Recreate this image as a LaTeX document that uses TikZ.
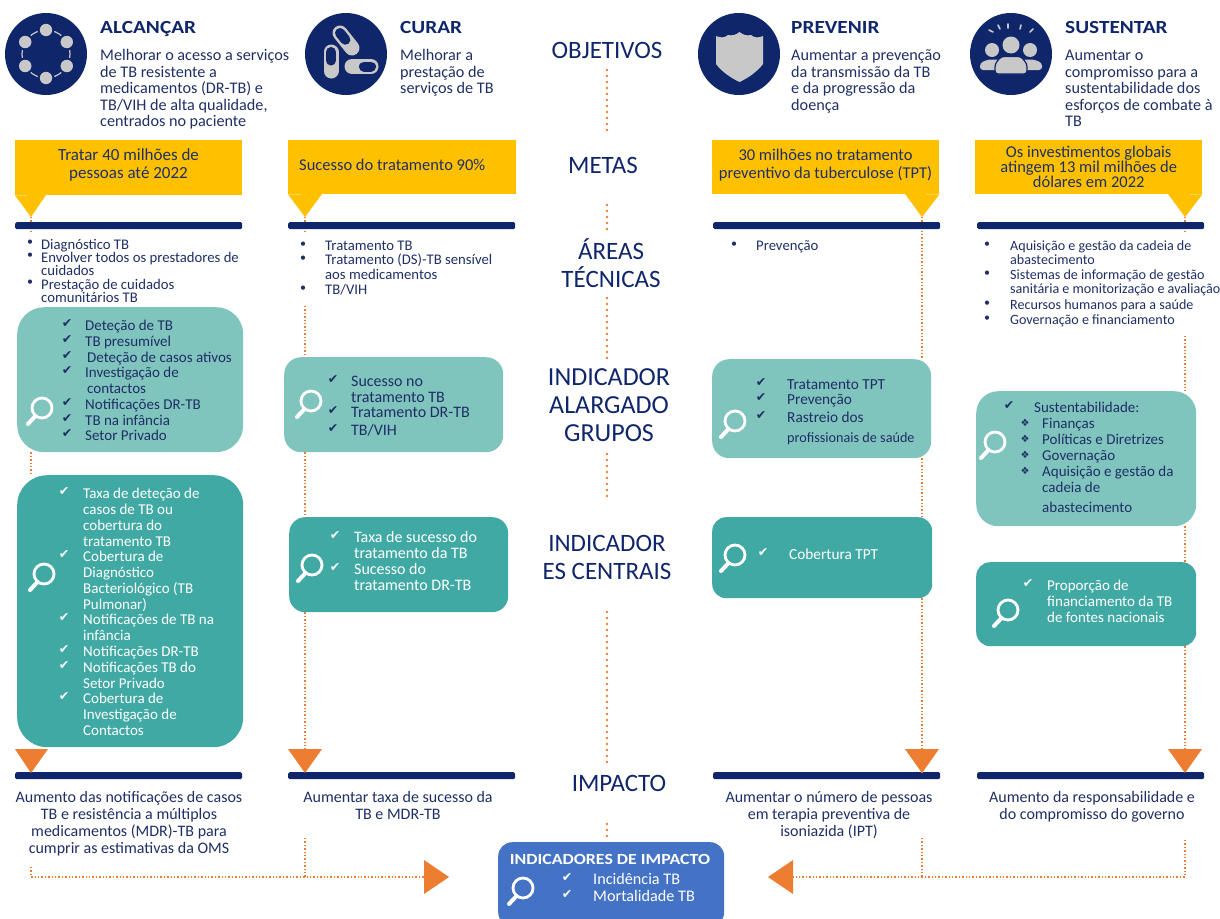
\documentclass[tikz,border=0pt]{standalone}
\usepackage{fontspec}
\setmainfont{Carlito}
\newfontfamily\djv{DejaVu Sans}
\newfontfamily\headf[FakeStretch=1.15]{Carlito}
\usetikzlibrary{calc}
\definecolor{navy}{HTML}{10266B}
\definecolor{ink}{HTML}{1F2F66}
\definecolor{gold}{HTML}{FFC000}
\definecolor{orng}{HTML}{ED7D31}
\definecolor{ltteal}{HTML}{80C4BE}
\definecolor{dkteal}{HTML}{41A9A3}
\definecolor{blu}{HTML}{4472C4}
\definecolor{iconGray}{HTML}{C8C8C8}
\newcounter{itc}
\newcommand\lsz{15}
\newcommand\bsz{14.7}
\newcommand\bbs{13.3}
\tikzset{
 x=1pt,y=-1pt,
 para/.style={inner sep=0pt,text=ink,font=\fontsize{16.2}{16.5}\selectfont},
 pleft/.style={para,anchor=north west,align=left},
 pcent/.style={para,anchor=north,align=center,font=\fontsize{16}{17}\selectfont},
 headtxt/.style={inner sep=0pt,anchor=base west,text=navy,font=\fontsize{18.5}{20}\selectfont\headf\bfseries},
 central/.style={inner sep=0pt,text=navy,font=\fontsize{25}{28}\selectfont,align=center},
 goldbox/.style={fill=gold,inner sep=0pt,anchor=north west,text=ink,align=center,font=\fontsize{16.5}{18}\selectfont},
 navbar/.style={fill=navy,rounded corners=1.5pt,inner sep=0pt,anchor=north west,minimum height=7pt},
 lightbox/.style={fill=ltteal,inner sep=0pt,anchor=north west,draw=none},
 darkbox/.style={fill=dkteal,inner sep=0pt,anchor=north west,draw=none},
 listtxt/.style={inner sep=0pt,anchor=north west,align=left,font=\fontsize{\lsz}{16}\selectfont},
 smalltxt/.style={inner sep=0pt,anchor=north west,align=left,text=ink,font=\fontsize{\bsz}{\bbs}\selectfont},
 ckmark/.style={inner sep=0pt,font=\fontsize{12.5}{12}\selectfont\djv},
 dotline/.style={orng,line width=1.4pt,dash pattern=on 1.4pt off 2pt},
 middot/.style={orng,line width=2.6pt,line cap=round,dash pattern=on 0pt off 6pt},
 otip/.style={fill=orng,draw=none},
 glass/.pic={\draw[white,line width=2.8pt] (3,-4) circle[radius=10];
   \draw[white,line width=4pt,line cap=round] (-3.5,4) -- (-11,12);},
 gi/.style={fill=iconGray,draw=none},
}
\newcommand\chk[5][ink]{\stepcounter{itc}%
 \node[ckmark,text=#1] (m\arabic{itc}) at (#2,#4-1) {✔};
 \node[listtxt,text=#1] (t\arabic{itc}) at (#3,#4-6) {\strut #5};}
\newcommand\bul[4]{\stepcounter{itc}%
 \node[inner sep=0pt,text=ink,font=\fontsize{12}{14}\selectfont] (m\arabic{itc}) at (#1,#3) {•};
 \node[smalltxt] (t\arabic{itc}) at (#2,#3+5-0.7*\bbs) {\strut #4};}
\newcommand\dia[2]{\stepcounter{itc}%
 \node[ckmark,text=ink,font=\fontsize{10}{12}\selectfont\djv] (m\arabic{itc}) at (1025,#1) {❖};
 \node[listtxt,text=ink] (t\arabic{itc}) at (1042,#1-6) {\strut #2};}
\newcommand\pillshape[4]{% from a to b, halfway navy
 \draw[iconGray,line width=15pt,line cap=round] (#1,#2) -- (#3,#4);
 \draw[navy,line width=10pt,line cap=round] (#1,#2) -- ($(#1,#2)!.45!(#3,#4)$);
}
\begin{document}
\begin{tikzpicture}
\useasboundingbox (0,0) rectangle (1220,918);
\lineskiplimit=-20pt\relax
% column x positions
\coordinate (c1) at (31,0); \coordinate (c2) at (305,0);
\coordinate (c3) at (922,0); \coordinate (c4) at (1185,0);
\coordinate (cm) at (607,0);
% icons
\node[fill=navy,circle,minimum size=82pt,inner sep=0pt] (ic1) at (46,54) {};
\node[fill=navy,circle,minimum size=82pt,inner sep=0pt] (ic2) at (346,54) {};
\node[fill=navy,circle,minimum size=82pt,inner sep=0pt] (ic3) at (739,54) {};
\node[fill=navy,circle,minimum size=82pt,inner sep=0pt] (ic4) at (1011,54) {};
% network icon
\draw[iconGray,line width=1.2pt] (46,54) circle[radius=24];
\foreach \a in {90,150,210,270,330,30}{\fill[navy] ($(46,54)+(\a:24)$) circle[radius=8.5];\fill[iconGray] ($(46,54)+(\a:24)$) circle[radius=6.2];}
% pills
\pillshape{340}{33}{352}{48}
\pillshape{331}{52}{331}{71}
\draw[iconGray,line width=15pt,line cap=round] (352,66.5) -- (371,66.5);
\draw[navy,line width=10pt,line cap=round] (364,66.5) -- (371,66.5);
% shield
\fill[iconGray] (716,36) .. controls (720,38) and (725,38) .. (728,35) .. controls (732,36) and (736,35) .. (739.5,32)
 .. controls (743,35) and (747,36) .. (751,35) .. controls (754,38) and (759,38) .. (763,36)
 -- (763,64) .. controls (757,72) and (748,78) .. (739.5,82) .. controls (731,78) and (722,72) .. (716,64) -- cycle;
% people
\fill[gi] (992,50) circle[radius=7]; \fill[gi] (1030,50) circle[radius=7];
\fill[gi,rounded corners=3pt] (980,70) -- (980,63) -- (988,59.5) -- (998,59.5) -- (1004,62) -- (1018,62) -- (1024,59.5) -- (1034,59.5) -- (1042,63) -- (1042,70) -- cycle;
\fill[navy] (1011,46) circle[radius=10];
\fill[gi] (1011,45) circle[radius=8.5];
\draw[navy,line width=1.2pt,fill=iconGray,rounded corners=3pt] (995,74) -- (995,64) -- (1001,56.5) -- (1021,56.5) -- (1027,64) -- (1027,74) -- cycle;
\draw[iconGray,line width=1.6pt,line cap=round] (993,32)--(989,30) (1000,29)--(998,25) (1008,28)--(1008,24) (1020,29)--(1021,25) (1030,32)--(1033,29);
% headings
\node[headtxt] (h1) at (100,33) {ALCANÇAR};
\node[headtxt] (h2) at (400,33) {CURAR};
\node[headtxt] (h3) at (791,33) {PREVENIR};
\node[headtxt] (h4) at (1065,33) {SUSTENTAR};
\node[pleft] (d1) at (100,49) {\strut Melhorar o acesso a serviços\\de TB resistente a\\medicamentos (DR-TB) e\\TB/VIH de alta qualidade,\\centrados no paciente};
\node[pleft] (d2) at (400,49) {\strut Melhorar a\\prestação de\\serviços de TB};
\node[pleft] (d3) at (791,49) {\strut Aumentar a prevenção\\da transmissão da TB\\e da progressão da\\doença};
\node[pleft] (d4) at (1065,49) {\strut Aumentar o\\compromisso para a\\sustentabilidade dos\\esforços de combate à\\TB};
% central labels
\node[central] (lobj) at (607,50) {OBJETIVOS};
\node[central] (lmet) at (603,165) {METAS};
\node[central] (lare) at (611,263) {ÁREAS\\TÉCNICAS};
\node[central,font=\fontsize{26}{28}\selectfont] (lalg) at (609,405) {INDICADOR\\ALARGADO\\GRUPOS};
\node[central] (lcen) at (607,557) {INDICADOR\\ES CENTRAIS};
\node[central] (limp) at (619,783) {IMPACTO};
% boxes
\node[lightbox,minimum width=226pt,minimum height=145pt,rounded corners=27pt] (lb1) at (17,307) {};
\node[lightbox,minimum width=219pt,minimum height=95pt,rounded corners=17pt] (lb2) at (284,357) {};
\node[lightbox,minimum width=219pt,minimum height=99pt,rounded corners=17pt] (lb3) at (712,359) {};
\node[lightbox,minimum width=220pt,minimum height=135pt,rounded corners=22pt] (lb4) at (976,391) {};
\node[darkbox,minimum width=226pt,minimum height=272pt,rounded corners=30pt] (db1) at (17,475) {};
\node[darkbox,minimum width=219pt,minimum height=95pt,rounded corners=16pt] (db2) at (289,517) {};
\node[darkbox,minimum width=220pt,minimum height=81pt,rounded corners=14pt] (db3) at (712,517) {};
\node[darkbox,minimum width=220pt,minimum height=84pt,rounded corners=14pt] (db4) at (976,562) {};
% vertical dotted connectors
\draw[middot] (cm |- 0,70) -- (cm |- 0,135);
\draw[middot] (cm |- 0,205) -- (cm |- 0,230);
\draw[middot] (cm |- 0,298) -- (cm |- 0,358);
\draw[middot] (cm |- 0,454) -- (cm |- 0,500);
\draw[middot] (cm |- 0,612) -- (cm |- 0,766);
% gold boxes
\node[goldbox,minimum width=227pt,minimum height=55pt] (g1) at (15,140) {};
\node[inner sep=0pt,text=ink,align=center,font=\fontsize{17}{18}\selectfont] (g1t) at (128.5,165) {Tratar 40 milhões de\\pessoas até 2022};
\node[goldbox,minimum width=228pt,minimum height=54pt] (g2) at (288,140) {};
\node[inner sep=0pt,text=ink,anchor=west,font=\fontsize{16.5}{18}\selectfont] (g2t) at (299,165) {Sucesso do tratamento 90\%};
\node[goldbox,minimum width=227pt,minimum height=54pt] (g3) at (712,140) {};
\node[inner sep=0pt,text=ink,align=center,font=\fontsize{16.5}{18}\selectfont] (g3t) at (825.5,165) {30 milhões no tratamento\\preventivo da tuberculose (TPT)};
\node[goldbox,minimum width=227pt,minimum height=54pt,font=\fontsize{16.5}{15}\selectfont] (g4) at (975,140) {Os investimentos globais\\atingem 13 mil milhões de\\dólares em 2022};
\coordinate (p1) at (31,217); \coordinate (p2) at (305,217); \coordinate (p3) at (922,217); \coordinate (p4) at (1185,217);
\fill[gold] (g1.south west) -- (p1) -- (46,195) -- cycle;
\fill[gold] (g2.south west) -- (p2) -- (322,194) -- cycle;
\fill[gold] (905,194) -- (p3) -- (g3.south east) -- cycle;
\fill[gold] (1168,194) -- (p4) -- (g4.south east) -- cycle;
% column connectors
\coordinate (f2) at (305,306); \coordinate (f4) at (1185,336);
\draw[dotline] (p1) -- (c1 |- 0,232);
\draw[dotline] (p2) -- (c2 |- 0,232);
\draw[dotline] (p3) -- (c3 |- 0,359);
\draw[dotline] (p4) -- (c4 |- 0,232);
\draw[dotline] (f2) -- (c2 |- 0,357);
\draw[dotline] (f4) -- (c4 |- 0,391);
% navy bars top + bottom
\node[navbar,minimum width=227pt] (b1) at (15,222) {};
\node[navbar,minimum width=227pt] (b2) at (288,222) {};
\node[navbar,minimum width=227pt] (b3) at (713,222) {};
\node[navbar,minimum width=227pt] (b4) at (977,222) {};
\node[navbar,minimum width=227pt] (e1) at (15,772) {};
\node[navbar,minimum width=227pt] (e2) at (288,772) {};
\node[navbar,minimum width=227pt] (e3) at (713,772) {};
\node[navbar,minimum width=227pt] (e4) at (977,772) {};
\draw[dotline] (c1 |- lb1.south) -- (c1 |- db1.north);
\draw[dotline] (c2 |- lb2.south) -- (c2 |- db2.north);
\draw[dotline] (c3 |- lb3.south) -- (c3 |- db3.north);
\draw[dotline] (c4 |- lb4.south) -- (c4 |- db4.north);
\draw[dotline] (c2 |- db2.south) -- (c2 |- e2.north);
\draw[dotline] (c3 |- db3.south) -- (c3 |- e3.north);
\draw[dotline] (c4 |- db4.south) -- (c4 |- e4.north);
% orange tips
\coordinate (o1) at (31,773); \coordinate (o2) at (305,773); \coordinate (o3) at (922,773); \coordinate (o4) at (1185,773);
\fill[otip] (15,749) -- (48,749) -- (o1) -- cycle;
\fill[otip] (288,749) -- (322,749) -- (o2) -- cycle;
\fill[otip] (905,749) -- (939,749) -- (o3) -- cycle;
\fill[otip] (1168,749) -- (1202,749) -- (o4) -- cycle;
% lists: areas
\bul{30}{41}{243}{Diagnóstico TB}
\bul{30}{41}{256}{Envolver todos os prestadores de\\cuidados}
\bul{30}{41}{283}{Prestação de cuidados\\comunitários TB}
\renewcommand\bbs{14.5}
\bul{303}{325}{245}{Tratamento TB}
\bul{303}{325}{259}{Tratamento (DS)-TB sensível\\aos medicamentos}
\bul{303}{325}{289}{TB/VIH}
\bul{734}{756}{245}{Prevenção}
\renewcommand\bsz{14.1}
\bul{987}{1010}{245}{Aquisição e gestão da cadeia de\\abastecimento}
\bul{987}{1010}{274}{Sistemas de informação de gestão\\sanitária e monitorização e avaliação}
\bul{987}{1010}{304}{Recursos humanos para a saúde}
\bul{987}{1010}{319}{Governação e financiamento}
% lb1
\chk{67}{85}{325}{Deteção de TB}
\chk{67}{85}{341}{TB presumível}
\chk{67}{87}{357}{Deteção de casos ativos}
\chk{67}{85}{372}{Investigação de\\\hspace*{2pt}contactos}
\chk{67}{85}{404}{Notificações DR-TB}
\chk{67}{85}{420}{TB na infância}
\chk{67}{85}{435}{Setor Privado}
% db1
\chk[white]{64}{83}{493}{Taxa de deteção de\\casos de TB ou\\cobertura do\\tratamento TB}
\chk[white]{64}{83}{556}{Cobertura de\\Diagnóstico\\Bacteriológico (TB\\Pulmonar)}
\chk[white]{64}{83}{619}{Notificações de TB na\\infância}
\chk[white]{64}{83}{651}{Notificações DR-TB}
\chk[white]{64}{83}{667}{Notificações TB do\\Setor Privado}
\chk[white]{64}{83}{698}{Cobertura de\\Investigação de\\Contactos}
% lb2, db2
\renewcommand\lsz{16}
\chk{333}{351}{381}{Sucesso no\\tratamento TB}
\chk{333}{351}{412}{Tratamento DR-TB}
\chk{333}{351}{430}{TB/VIH}
\chk[white]{335}{354}{537}{Taxa de sucesso do\\tratamento da TB}
\chk[white]{335}{354}{569}{Sucesso do\\tratamento DR-TB}
% lb3, db3
\renewcommand\lsz{15.3}
\chk{761}{787}{384}{Tratamento TPT}
\chk{761}{787}{399}{Prevenção}
\chk{761}{787}{417}{Rastreio dos}
\chk[white]{763}{789}{554}{Cobertura TPT}
\renewcommand\lsz{14.2}
\node[listtxt,text=ink] (t3x) at (787,431) {\strut profissionais de saúde};
% lb4, db4
\renewcommand\lsz{15}
\chk{1009}{1034}{407}{Sustentabilidade:}
\dia{423}{Finanças}
\dia{439}{Políticas e Diretrizes}
\dia{455}{Governação}
\dia{471}{Aquisição e gestão da\\cadeia de}
\node[listtxt,text=ink] (t4x) at (1042,501) {\strut abastecimento};
\chk[white]{1028}{1047}{585}{Proporção de\\financiamento da TB\\de fontes nacionais}
% magnifiers
\pic (g1m) at (39,412) {glass};
\pic (g2m) at (308,405) {glass};
\pic (g3m) at (732,425) {glass};
\pic (g4m) at (992,446) {glass};
\pic (g5m) at (41,578) {glass};
\pic (g6m) at (309,569) {glass};
\pic (g7m) at (732,559) {glass};
\pic (g8m) at (1005,614) {glass};
% bottom text
\node[pcent] (r1) at (129,790.5) {\strut Aumento das notificações de casos\\TB e resistência a múltiplos\\medicamentos (MDR)-TB para\\cumprir as estimativas da OMS};
\node[pcent] (r2) at (398,790.5) {\strut Aumentar taxa de sucesso da\\TB e MDR-TB};
\node[pcent] (r3) at (829,790.5) {\strut Aumentar o número de pessoas\\em terapia preventiva de\\isoniazida (IPT)};
\node[pcent] (r4) at (1092,790.5) {\strut Aumento da responsabilidade e\\do compromisso do governo};
% impact box
\begin{scope}
\clip (0,0) rectangle (1220,918);
\node[fill=blu,inner sep=0pt,anchor=north west,minimum width=226pt,minimum height=84pt,rounded corners=14pt] (ib) at (498,842) {};
\end{scope}
\node[inner sep=0pt,text=white,font=\fontsize{15.5}{16}\selectfont\headf\bfseries] (ibt) at (610,859) {INDICADORES DE IMPACTO};
\pic (g9m) at (520,892) {glass};
\renewcommand\lsz{16.2}
\chk[white]{567}{593}{879}{Incidência TB}
\chk[white]{567}{593}{896}{Mortalidade TB}
\draw[middot] (cm |- 0,824) -- (cm |- ib.north);
% bottom arrows
\coordinate (s1) at (31,867); \coordinate (s4) at (1185,840); \coordinate (s2) at (305,838); \coordinate (s3) at (922,838);
\coordinate (j1) at (31,877); \coordinate (j2) at (305,877); \coordinate (j3) at (922,877); \coordinate (j4) at (1185,877);
\coordinate (al) at (424,877);
\coordinate (ar) at (793,877);
\draw[dotline] (s1) -- (j1) -- (al);
\draw[dotline] (s2) -- (j2);
\draw[dotline] (s3) -- (j3);
\draw[dotline] (s4) -- (j4) -- (ar);
\fill[otip] (424,860) -- (449,877) -- (424,894) -- cycle;
\fill[otip] (793,860) -- (768,877) -- (793,894) -- cycle;
\end{tikzpicture}
\end{document}
